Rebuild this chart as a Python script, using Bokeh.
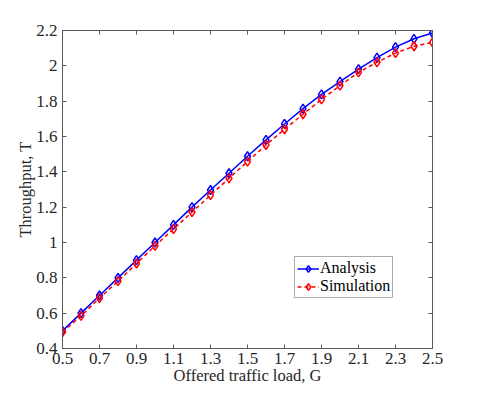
from bokeh.plotting import figure
from bokeh.models import LinearAxis, FixedTicker, CustomJSTickFormatter, Legend, LegendItem, Range1d
from bokeh.embed import file_html
from bokeh.resources import INLINE

G = [0.5, 0.6, 0.7, 0.8, 0.9, 1.0, 1.1, 1.2, 1.3, 1.4, 1.5, 1.6, 1.7, 1.8, 1.9, 2.0, 2.1, 2.2, 2.3, 2.4, 2.5]
analysis = [0.5, 0.6, 0.7, 0.8, 0.9, 1.0, 1.1, 1.2, 1.297, 1.392, 1.488, 1.581, 1.671, 1.758, 1.838, 1.911, 1.981, 2.046, 2.106, 2.153, 2.186]
simulation = [0.493, 0.585, 0.685, 0.781, 0.881, 0.981, 1.076, 1.172, 1.268, 1.363, 1.458, 1.552, 1.641, 1.726, 1.81, 1.888, 1.963, 2.02, 2.072, 2.111, 2.133]
x_ticks = [0.5, 0.7, 0.9, 1.1, 1.3, 1.5, 1.7, 1.9, 2.1, 2.3, 2.5]
y_ticks = [0.4, 0.6, 0.8, 1.0, 1.2, 1.4, 1.6, 1.8, 2.0, 2.2]

FONT = "Liberation Serif"
AX = "#262626"
FRAME = "#5a5a5a"

p = figure(width=470, height=387, output_backend="svg", toolbar_location=None,
           x_range=Range1d(0.5, 2.5), y_range=Range1d(0.4, 2.2),
           min_border_left=62, min_border_right=38, min_border_top=30, min_border_bottom=36)
p.xgrid.visible = False
p.ygrid.visible = False
p.outline_line_color = FRAME
p.background_fill_color = "white"


def style(ax, ticks, labels=True):
    ax.ticker = FixedTicker(ticks=ticks)
    ax.axis_line_color = FRAME
    ax.major_tick_line_color = FRAME
    ax.major_tick_in = 4
    ax.major_tick_out = 0
    ax.minor_tick_line_color = None
    ax.major_label_text_font = FONT
    ax.major_label_text_font_size = "17px"
    ax.major_label_text_color = AX
    ax.axis_label_text_font = FONT
    ax.axis_label_text_font_size = "16.5px"
    ax.axis_label_text_font_style = "normal"
    ax.axis_label_text_color = AX
    if not labels:
        ax.formatter = CustomJSTickFormatter(code="return ''")
        ax.major_label_standoff = 0


style(p.xaxis[0], x_ticks)
style(p.yaxis[0], y_ticks)
p.xaxis[0].axis_label = "Offered traffic load, G"
p.yaxis[0].axis_label = "Throughput, T"
p.xaxis[0].major_label_standoff = 4
p.yaxis[0].major_label_standoff = 5
p.xaxis[0].axis_label_standoff = -1
p.yaxis[0].axis_label_standoff = -2

top = LinearAxis()
style(top, x_ticks, labels=False)
p.add_layout(top, "above")
right = LinearAxis()
style(right, y_ticks, labels=False)
p.add_layout(right, "right")

l1 = p.line(G, analysis, line_color="blue", line_width=1.5)
m1 = p.scatter(G, analysis, marker="diamond", size=9, line_color="blue", fill_color=None, line_width=1.5)
l2 = p.line(G, simulation, line_color="red", line_width=1.5, line_dash="4 3")
m2 = p.scatter(G, simulation, marker="diamond", size=9, line_color="red", fill_color=None, line_width=1.5)

legend = Legend(items=[LegendItem(label="Analysis", renderers=[l1, m1]),
                       LegendItem(label="Simulation", renderers=[l2, m2])],
                location=(232, 50))
legend.label_text_font = FONT
legend.label_text_font_size = "16px"
legend.label_text_color = "black"
legend.border_line_color = FRAME
legend.border_line_width = 1
legend.padding = 2
legend.spacing = 0
legend.margin = 0
legend.label_standoff = 1
legend.glyph_width = 22
legend.glyph_height = 17
legend.label_height = 17
legend.background_fill_alpha = 1
p.add_layout(legend, "center")

open("out.html", "w").write(file_html(p, INLINE))
